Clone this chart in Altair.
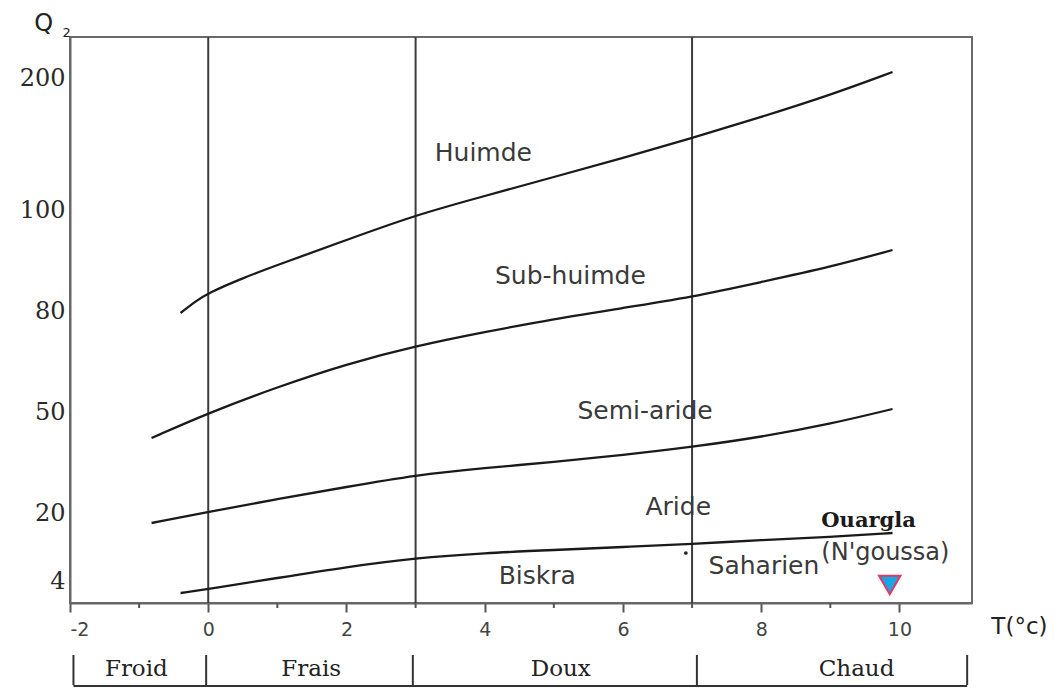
import altair as alt
import pandas as pd

# ---------------- data ----------------
# y is the position on the (non-linear) Q2 axis, in axis units from the bottom
Q2_LABELS = ["4", "20", "50", "80", "100", "200"]
Q2_POS = [22, 90, 191, 292, 393, 525]

X_TICKS = [-2, 0, 2, 4, 6, 8, 10]
X_MINOR = [-1, 1, 3, 5, 7, 9]
ZONE_LINES = [0, 3, 7]

c1_x = [-0.4, -0.2, 0, 0.5, 1, 2, 3, 4, 5, 6, 7, 8, 9, 9.9]
c1_y = [290, 301, 310, 325, 338, 363, 388, 407, 426, 445, 465, 486, 508, 531]

c2_x = [-0.82, 0, 1, 2, 3, 4, 5, 6, 7, 8, 9, 9.9]
c2_y = [165, 190, 216, 239, 257, 271, 284, 295, 306, 321, 336, 353]

c3_x = [-0.82, 0, 1, 2, 3, 4, 5, 6, 7, 8, 9, 9.9]
c3_y = [80, 91, 104, 116, 128, 135, 141, 148, 156, 166, 179, 194]

c4_x = [-0.4, 0, 1, 2, 3, 4, 5, 6, 7, 8, 9, 9.9]
c4_y = [10, 14, 25, 36, 45, 50, 53, 56, 59, 63, 66, 70]

zone_names = ["Huimde", "Sub-huimde", "Semi-aride", "Aride", "Biskra", "Saharien"]
zone_x = [3.98, 5.24, 6.32, 6.8, 4.76, 8.04]
zone_y = [450, 327, 192, 96, 27, 37]

station_x = 9.86
station_y = 18
dot_x, dot_y = 6.91, 50

band_names = ["Froid", "Frais", "Doux", "Chaud"]
band_x = [-1.04, 1.49, 5.1, 9.38]
band_sep = [-1.95, -0.03, 2.96, 7.07, 10.98]
BAND_Y = -66

XMIN, XMAX = -2, 11.05
YMIN, YMAX = 0, 566

# ---------------- tables ----------------
curves = pd.concat([
    pd.DataFrame({"x": c1_x, "y": c1_y, "c": "c1"}),
    pd.DataFrame({"x": c2_x, "y": c2_y, "c": "c2"}),
    pd.DataFrame({"x": c3_x, "y": c3_y, "c": "c3"}),
    pd.DataFrame({"x": c4_x, "y": c4_y, "c": "c4"}),
])

xs = alt.Scale(domain=[XMIN, XMAX], nice=False, zero=False)
ys = alt.Scale(domain=[YMIN, YMAX], nice=False, zero=False)

label_expr = " : ".join(
    f"datum.value == {p} ? '{l}'" for p, l in zip(Q2_POS, Q2_LABELS)
) + " : ''"

base = alt.Chart(curves)

lines = base.mark_line(color="#1a1a1a", strokeWidth=2.3, interpolate="basis").encode(
    x=alt.X("x:Q", scale=xs, axis=alt.Axis(
        values=X_TICKS, labelExpr="'' + datum.value", title=None, grid=False,
        tickSize=9, tickWidth=2,
        tickColor="#555", domainColor="#666", domainWidth=2,
        labelFont="DejaVu Sans", labelFontSize=19, labelColor="#444",
        labelPadding=8)),
    y=alt.Y("y:Q", scale=ys, axis=alt.Axis(
        values=Q2_POS, labelExpr=label_expr, title=None, grid=False,
        ticks=False, domainColor="#666", domainWidth=2,
        labelFont="DejaVu Serif", labelFontSize=24, labelColor="#2a2a2a",
        labelPadding=5)),
    detail="c:N",
)

vlines = alt.Chart(pd.DataFrame({"x": ZONE_LINES})).mark_rule(
    color="#3c3c3c", strokeWidth=2).encode(x=alt.X("x:Q", scale=xs))

minor = alt.Chart(pd.DataFrame({"x": X_MINOR, "y": [0] * len(X_MINOR),
                                "y2": [-5] * len(X_MINOR)})).mark_rule(
    color="#555", strokeWidth=2).encode(
    x=alt.X("x:Q", scale=xs), y=alt.Y("y:Q", scale=ys), y2="y2:Q")

zones = alt.Chart(pd.DataFrame({"x": zone_x, "y": zone_y, "t": zone_names})).mark_text(
    font="DejaVu Sans", fontSize=25, color="#3a3a3a", align="center", baseline="middle"
).encode(x=alt.X("x:Q", scale=xs), y=alt.Y("y:Q", scale=ys), text="t:N")

ouargla = alt.Chart(pd.DataFrame({"x": [8.87], "y": [82], "t": ["Ouargla"]})).mark_text(
    font="DejaVu Serif", fontSize=21, fontWeight="bold", color="#1a1a1a",
    align="left", baseline="middle"
).encode(x=alt.X("x:Q", scale=xs), y=alt.Y("y:Q", scale=ys), text="t:N")

ngoussa = alt.Chart(pd.DataFrame({"x": [8.87], "y": [50], "t": ["(N'goussa)"]})).mark_text(
    font="DejaVu Sans", fontSize=24, color="#3a3a3a", align="left", baseline="middle"
).encode(x=alt.X("x:Q", scale=xs), y=alt.Y("y:Q", scale=ys), text="t:N")

station = alt.Chart(pd.DataFrame({"x": [station_x], "y": [station_y]})).mark_point(
    shape="triangle-down", filled=True, fill="#1aa6e6", stroke="#e23a5e",
    strokeWidth=2, size=460, opacity=1
).encode(x=alt.X("x:Q", scale=xs), y=alt.Y("y:Q", scale=ys))

dot = alt.Chart(pd.DataFrame({"x": [dot_x], "y": [dot_y]})).mark_point(
    filled=True, color="#222", size=14, opacity=1
).encode(x=alt.X("x:Q", scale=xs), y=alt.Y("y:Q", scale=ys))

q_lab = alt.Chart(pd.DataFrame({"x": [-2.38], "y": [579], "t": ["Q"]})).mark_text(
    font="DejaVu Sans", fontSize=24, color="#222", align="center", baseline="middle"
).encode(x=alt.X("x:Q", scale=xs), y=alt.Y("y:Q", scale=ys), text="t:N")

q_sub = alt.Chart(pd.DataFrame({"x": [-2.05], "y": [570], "t": ["2"]})).mark_text(
    font="DejaVu Sans", fontSize=13, color="#222", align="center", baseline="middle"
).encode(x=alt.X("x:Q", scale=xs), y=alt.Y("y:Q", scale=ys), text="t:N")

t_lab = alt.Chart(pd.DataFrame({"x": [11.33], "y": [-24], "t": ["T(°c)"]})).mark_text(
    font="DejaVu Sans", fontSize=23, color="#222", align="left", baseline="middle"
).encode(x=alt.X("x:Q", scale=xs), y=alt.Y("y:Q", scale=ys), text="t:N")

bands = alt.Chart(pd.DataFrame({"x": band_x, "y": [BAND_Y] * 4, "t": band_names})).mark_text(
    font="DejaVu Serif", fontSize=23, color="#222", align="center", baseline="middle"
).encode(x=alt.X("x:Q", scale=xs), y=alt.Y("y:Q", scale=ys), text="t:N")

seps = alt.Chart(pd.DataFrame({"x": band_sep, "y": [-52] * 5, "y2": [-82] * 5})).mark_rule(
    color="#333", strokeWidth=2).encode(
    x=alt.X("x:Q", scale=xs), y=alt.Y("y:Q", scale=ys), y2="y2:Q")

baseline = alt.Chart(pd.DataFrame({"x": [band_sep[0]], "x2": [band_sep[-1]], "y": [-83]})).mark_rule(
    color="#333", strokeWidth=2).encode(
    x=alt.X("x:Q", scale=xs), x2="x2:Q", y=alt.Y("y:Q", scale=ys))

chart = alt.layer(
    vlines, minor, lines, zones, ouargla, ngoussa, station, dot,
    q_lab, q_sub, t_lab, bands, seps, baseline
).properties(
    width=902, height=566,
    autosize=alt.AutoSizeParams(type="none"),
    padding={"left": 62, "top": 29, "right": 80, "bottom": 85},
    background="white",
).configure_view(stroke="#6a6a6a", strokeWidth=2)

chart.save("out.html", embed_options={"renderer": "svg", "actions": False})
